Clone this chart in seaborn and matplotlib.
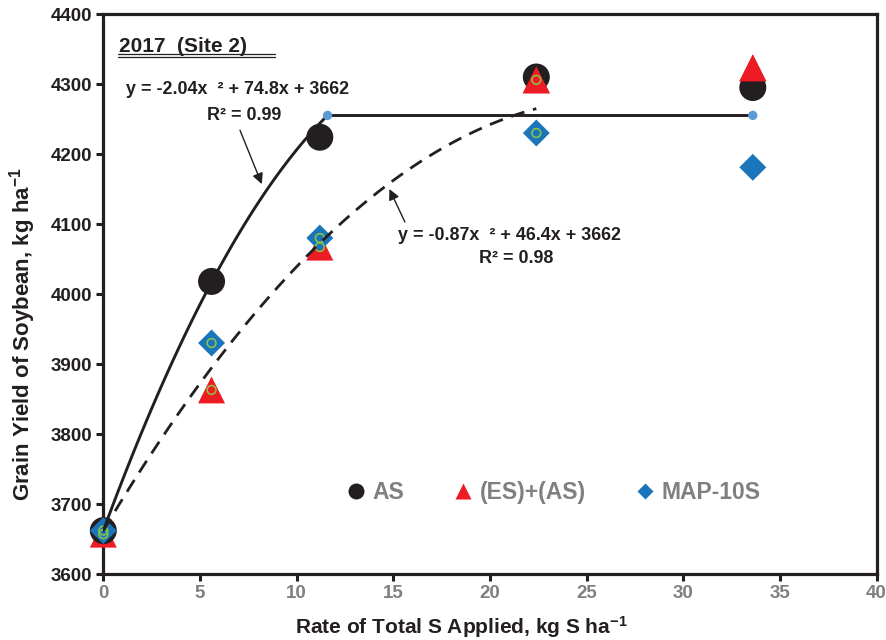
import matplotlib
matplotlib.use('Agg')
import matplotlib.pyplot as plt
import numpy as np
import pandas as pd
import seaborn as sns
from matplotlib.lines import Line2D

# rates of total S applied (kg S/ha)
rates = [0, 5.6, 11.2, 22.4, 33.6]

# grain yield (kg/ha)
yield_as = [3662, 4018, 4224, 4310, 4295]
yield_es_as = [3657, 3863, 4067, 4306, 4323]
yield_map10s = [3662, 3930, 4080, 4230, 4181]

# fitted quadratics shown on the chart: a*x^2 + b*x + c
fit_as = [-2.04, 74.8, 3662]
fit_es = [-0.87, 46.4, 3662]
fit_as_join = 11.6      # where the quad-plateau fit levels off
fit_as_end = 33.6
fit_es_end = 22.4

x_ticks = [0, 5, 10, 15, 20, 25, 30, 35, 40]
y_ticks = [3600, 3700, 3800, 3900, 4000, 4100, 4200, 4300, 4400]

BLACK = '#231f20'
RED = '#ed1c24'
BLUE = '#1b75bb'
LIGHTBLUE = '#5b9bd5'
GREEN = '#8dc63f'
GRAY = '#808080'

sns.set_theme(style='white')
plt.rcParams['font.family'] = ['Liberation Sans', 'DejaVu Sans']
plt.rcParams['font.weight'] = 'bold'
plt.rcParams['mathtext.fontset'] = 'custom'
plt.rcParams['mathtext.rm'] = 'Liberation Sans:bold'
plt.rcParams['mathtext.it'] = 'Liberation Sans:bold'
plt.rcParams['mathtext.bf'] = 'Liberation Sans:bold'


def quad(coefs, x):
    return coefs[0] * x ** 2 + coefs[1] * x + coefs[2]


'''
Draws the yield response of soybean to S rate for the three sources
'''
def graph_yield_response(save_path='out.png'):
    fig = plt.figure(figsize=(8.86, 6.4), dpi=100)
    ax = fig.add_axes([0.1166, 0.1031, 0.8727, 0.875])

    df = pd.DataFrame({'rate': rates, 'AS': yield_as, 'ES': yield_es_as, 'MAP': yield_map10s})

    sns.scatterplot(data=df, x='rate', y='ES', marker='^', s=378, color=RED,
                    edgecolor='none', ax=ax, zorder=3, clip_on=False)
    sns.scatterplot(data=df, x='rate', y='AS', marker='o', s=378, color=BLACK,
                    edgecolor='none', ax=ax, zorder=3, clip_on=False)
    # triangles sit over the circles at the upper rates
    sns.scatterplot(data=df[df['rate'] > 20], x='rate', y='ES', marker='^', s=378, color=RED,
                    edgecolor='none', ax=ax, zorder=4, clip_on=False)
    sns.scatterplot(data=df, x='rate', y='MAP', marker='D', s=188, color=BLUE,
                    edgecolor='none', ax=ax, zorder=5, clip_on=False)

    # the small open green circles sitting on the ES and MAP markers
    ring_x = rates[:4] + rates[:4]
    ring_y = yield_es_as[:4] + yield_map10s[:4]
    ax.scatter(ring_x, ring_y, s=40, facecolors='none', edgecolors=GREEN, linewidths=1.1,
               zorder=6, clip_on=False)

    # quadratic-plateau fit for AS
    xq = np.linspace(0, fit_as_join, 60)
    plateau = quad(fit_as, fit_as_join)
    sns.lineplot(x=xq, y=quad(fit_as, xq), color=BLACK, lw=2.1, ax=ax, sort=False, zorder=7)
    sns.lineplot(x=[fit_as_join, fit_as_end], y=[plateau, plateau], color=BLACK, lw=2.1,
                 ax=ax, sort=False, zorder=7)
    ax.scatter([fit_as_join, fit_as_end], [plateau, plateau], s=45, color=LIGHTBLUE,
               edgecolors='none', zorder=8)

    # quadratic fit for (ES)+(AS), dashed
    xe = np.linspace(0, fit_es_end, 80)
    sns.lineplot(x=xe, y=quad(fit_es, xe), color=BLACK, lw=2.0, ax=ax, sort=False,
                 linestyle=(0, (5, 3.2)), zorder=7)

    ax.set_xlim(0, 40)
    ax.set_ylim(3600, 4400)
    ax.set_xticks(x_ticks)
    ax.set_yticks(y_ticks)
    ax.set_xticklabels([str(t) for t in x_ticks], color=GRAY, fontsize=13.5, fontweight='bold')
    ax.set_yticklabels([str(t) for t in y_ticks], color=BLACK, fontsize=13.5, fontweight='bold')
    ax.tick_params(axis='both', direction='out', length=5, width=2.2, color=BLACK,
                   left=True, bottom=True, pad=3)
    for sp in ax.spines.values():
        sp.set_visible(True)
        sp.set_color(BLACK)
        sp.set_linewidth(2.3)

    ax.set_xlabel('Rate of Total S Applied, kg S ha$^{-1}$', fontsize=15, fontweight='bold',
                  color=BLACK)
    ax.set_ylabel('Grain Yield of Soybean, kg ha$^{-1}$', fontsize=16, fontweight='bold',
                  color=BLACK)
    ax.xaxis.set_label_coords(0.4626, -0.071)
    ax.yaxis.set_label_coords(-0.084, 0.4286)

    # site title with double underline
    ax.text(0.82, 4346, '2017  (Site 2)', fontsize=15, fontweight='bold', color=BLACK,
            va='baseline', ha='left')
    ax.plot([0.77, 8.88], [4343, 4343], color=BLACK, lw=0.9, zorder=2)
    ax.plot([0.77, 8.88], [4339, 4339], color=BLACK, lw=0.9, zorder=2)

    # fit equations + arrows
    ax.text(1.18, 4286, 'y = -2.04x  ² + 74.8x + 3662', fontsize=12.9, fontweight='bold',
            color=BLACK, va='baseline')
    ax.text(5.37, 4249, 'R² = 0.99', fontsize=12.9, fontweight='bold', color=BLACK,
            va='baseline')
    ax.annotate('', xy=(8.2, 4157), xytext=(7.07, 4234),
                arrowprops=dict(arrowstyle='-|>', lw=1.0, color=BLACK, mutation_scale=16,
                                shrinkA=0, shrinkB=0))

    ax.text(15.24, 4077, 'y = -0.87x  ² + 46.4x + 3662', fontsize=12.9, fontweight='bold',
            color=BLACK, va='baseline')
    ax.text(19.44, 4044, 'R² = 0.98', fontsize=12.9, fontweight='bold', color=BLACK,
            va='baseline')
    ax.annotate('', xy=(14.8, 4150), xytext=(15.6, 4103),
                arrowprops=dict(arrowstyle='-|>', lw=1.0, color=BLACK, mutation_scale=16,
                                shrinkA=0, shrinkB=0))

    handles = [
        Line2D([], [], ls='none', marker='o', ms=11.5, color=BLACK, mec='none'),
        Line2D([], [], ls='none', marker='^', ms=11.5, color=RED, mec='none'),
        Line2D([], [], ls='none', marker='D', ms=8.2, color=BLUE, mec='none'),
    ]
    ax.legend(handles, ['AS', '(ES)+(AS)', 'MAP-10S'], ncol=3, frameon=False,
              loc='center left', bbox_to_anchor=(0.312, 0.1464), borderpad=0, borderaxespad=0,
              handlelength=1.0, handletextpad=0.2, columnspacing=2.1,
              prop={'size': 16.5, 'weight': 'bold'}, labelcolor=GRAY)

    plt.savefig(save_path, dpi=100)
    plt.close()
    return 0


if __name__ == '__main__':
    graph_yield_response('out.png')
